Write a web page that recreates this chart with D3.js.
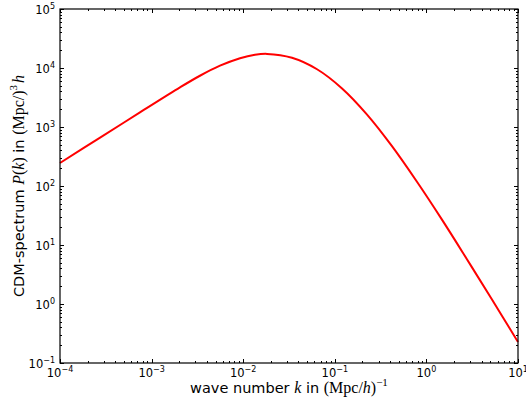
<!DOCTYPE html>
<html>
<head>
<meta charset="utf-8">
<script src="https://cdn.jsdelivr.net/npm/d3@7"></script>
<style>
  body { margin: 0; background: #fff; }
  text { font-family: "DejaVu Sans", sans-serif; }
  .math { font-family: "Liberation Serif", serif; }
</style>
</head>
<body>
<svg id="chart" width="526" height="405"></svg>
<script>
// values
const waveNumbers = [1e-4, 2.74e-4, 7.46e-4, 2.04e-3, 3.37e-3, 5.58e-3, 9.23e-3, 1.345e-2, 1.82e-2,
                     3.41e-2, 6.4e-2, 0.12, 0.225, 0.421, 0.789, 1.479, 2.77, 5.2, 10];
const spectrum = [245.5, 661, 1766, 4690, 7390, 10940, 14660, 16750, 17340,
                  14930, 9530, 4500, 1622, 473, 118, 26.9, 5.74, 1.19, 0.227];
const xTicks = [1e-4, 1e-3, 1e-2, 1e-1, 1e0, 1e1];
const yTicks = [1e-1, 1e0, 1e1, 1e2, 1e3, 1e4, 1e5];

const margin = {left: 60, right: 8, top: 9, bottom: 42};
const width = 526, height = 405;
const svg = d3.select("#chart");

const x = d3.scaleLog().domain([1e-4, 1e1]).range([margin.left, width - margin.right]);
const y = d3.scaleLog().domain([1e-1, 1e5]).range([height - margin.bottom, margin.top]);

const x0 = x.range()[0], x1 = x.range()[1];
const y0 = y.range()[0], y1 = y.range()[1];

// minor ticks 2..9 of each decade
function minors(scale) {
  let [a, b] = scale.domain();
  let out = [];
  for (let e = Math.round(Math.log10(a)); e < Math.round(Math.log10(b)); e++) {
    for (let m = 2; m <= 9; m++) out.push(m * Math.pow(10, e));
  }
  return out;
}

const ticks = svg.append("g").attr("stroke", "black").attr("stroke-width", 1);
function drawXTicks(vals, len) {
  vals.forEach(v => {
    let px = Math.round(x(v)) + 0.5;
    ticks.append("line").attr("x1", px).attr("x2", px).attr("y1", y0).attr("y2", y0 - len);
    ticks.append("line").attr("x1", px).attr("x2", px).attr("y1", y1).attr("y2", y1 + len);
  });
}
function drawYTicks(vals, len) {
  vals.forEach(v => {
    let py = Math.round(y(v)) + 0.5;
    ticks.append("line").attr("y1", py).attr("y2", py).attr("x1", x0).attr("x2", x0 + len);
    ticks.append("line").attr("y1", py).attr("y2", py).attr("x1", x1).attr("x2", x1 - len);
  });
}
drawXTicks(xTicks, 4);
drawXTicks(minors(x), 2);
drawYTicks(yTicks, 4);
drawYTicks(minors(y), 2);

// curve
const line = d3.line()
  .x(d => x(d[0]))
  .y(d => y(d[1]))
  .curve(d3.curveCatmullRom.alpha(0.5));

svg.append("path")
  .datum(d3.zip(waveNumbers, spectrum))
  .attr("fill", "none")
  .attr("stroke", "#ff0000")
  .attr("stroke-width", 2)
  .attr("d", line);

// frame
svg.append("rect")
  .attr("x", x0).attr("y", y1)
  .attr("width", x1 - x0).attr("height", y0 - y1)
  .attr("fill", "none").attr("stroke", "black").attr("stroke-width", 1.2);

function expLabel(sel, v) {
  let e = Math.round(Math.log10(v));
  sel.append("tspan").text("10");
  sel.append("tspan").attr("dy", -5).attr("font-size", 8).text(String(e).replace("-", "\u2212"));
}

xTicks.forEach(v => {
  let t = svg.append("text")
    .attr("x", x(v)).attr("y", y0 + 14)
    .attr("text-anchor", "middle").attr("font-size", 11.5);
  expLabel(t, v);
});

yTicks.forEach(v => {
  let t = svg.append("text")
    .attr("x", x0 - 5).attr("y", y(v) + 5)
    .attr("text-anchor", "end").attr("font-size", 11.5);
  expLabel(t, v);
});

// axis labels
let xl = svg.append("text")
  .attr("x", (x0 + x1) / 2).attr("y", 393)
  .attr("text-anchor", "middle").attr("font-size", 14.5);
xl.append("tspan").text("wave number ");
xl.append("tspan").attr("class", "math").attr("font-style", "italic").attr("font-size", 16).text("k");
xl.append("tspan").text(" in ");
xl.append("tspan").attr("class", "math").attr("font-size", 16).text("(Mpc/");
xl.append("tspan").attr("class", "math").attr("font-style", "italic").attr("font-size", 16).text("h");
xl.append("tspan").attr("class", "math").attr("font-size", 16).text(")");
xl.append("tspan").attr("class", "math").attr("font-size", 11).attr("dy", -7).text("\u22121");

let yl = svg.append("text")
  .attr("transform", `translate(24,${(y0 + y1) / 2}) rotate(-90)`)
  .attr("text-anchor", "middle").attr("font-size", 14.5);
yl.append("tspan").text("CDM-spectrum ");
yl.append("tspan").attr("class", "math").attr("font-style", "italic").attr("font-size", 16).text("P");
yl.append("tspan").attr("class", "math").attr("font-size", 16).text("(");
yl.append("tspan").attr("class", "math").attr("font-style", "italic").attr("font-size", 16).text("k");
yl.append("tspan").attr("class", "math").attr("font-size", 16).text(")");
yl.append("tspan").text(" in ");
yl.append("tspan").attr("class", "math").attr("font-size", 16).text("(Mpc/)");
yl.append("tspan").attr("class", "math").attr("font-size", 11).attr("dy", -7).text("3");
yl.append("tspan").attr("class", "math").attr("font-style", "italic").attr("font-size", 16).attr("dy", 7).attr("dx", 2).text("h");
</script>
</body>
</html>
